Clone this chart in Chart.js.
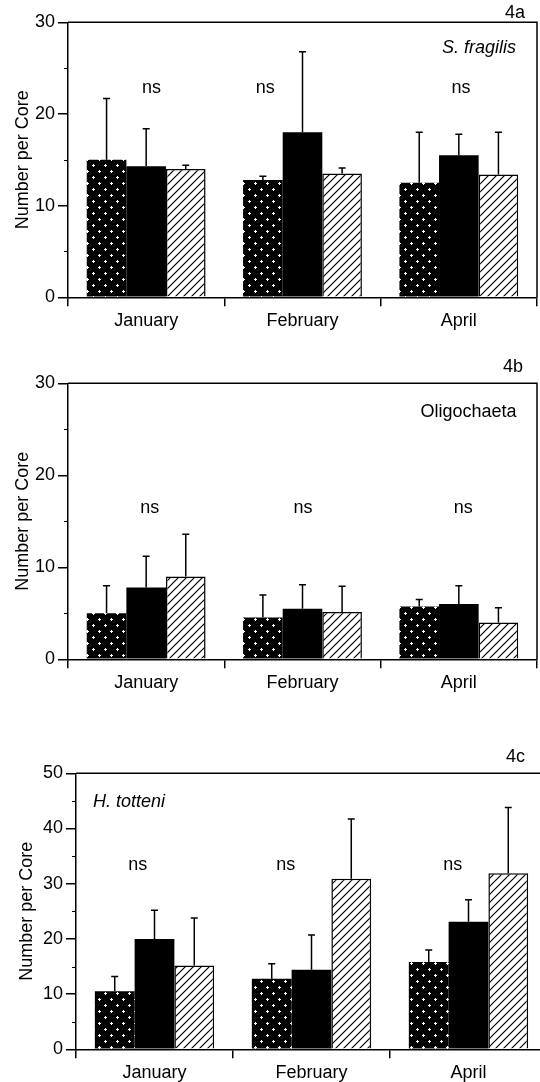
<!DOCTYPE html>
<html>
<head>
<meta charset="utf-8">
<script src="https://cdn.jsdelivr.net/npm/chart.js@4.4.1/dist/chart.umd.min.js"></script>
<style>
html, body { margin: 0; padding: 0; background: #fff; width: 540px; height: 1082px; overflow: hidden; }
canvas { position: absolute; left: 0; }
</style>
</head>
<body>
<canvas id="chartA" width="540" height="335" style="top:0px"></canvas>
<canvas id="chartB" width="540" height="360" style="top:340px"></canvas>
<canvas id="chartC" width="560" height="362" style="top:720px"></canvas>
<script>
const months = ['January', 'February', 'April'];
const seriesNames = ['Dotted', 'Solid', 'Hatched'];

// 4a - S. fragilis (mean, upper error)
const fragilisDotted = [15.0, 12.8, 12.5];
const fragilisDottedErr = [6.7, 0.4, 5.5];
const fragilisSolid = [14.3, 18.0, 15.5];
const fragilisSolidErr = [4.1, 8.8, 2.3];
const fragilisHatched = [14.0, 13.5, 13.4];
const fragilisHatchedErr = [0.4, 0.6, 4.6];

// 4b - Oligochaeta
const oligoDotted = [5.0, 4.55, 5.75];
const oligoDottedErr = [3.0, 2.45, 0.75];
const oligoSolid = [7.8, 5.5, 6.0];
const oligoSolidErr = [3.4, 2.6, 2.0];
const oligoHatched = [9.0, 5.15, 4.0];
const oligoHatchedErr = [4.6, 2.8, 1.6];

// 4c - H. totteni
const tottDotted = [10.5, 12.8, 15.8];
const tottDottedErr = [2.7, 2.7, 2.2];
const tottSolid = [20.0, 14.4, 23.1];
const tottSolidErr = [5.2, 6.3, 4.0];
const tottHatched = [15.2, 30.9, 31.9];
const tottHatchedErr = [8.6, 10.8, 11.9];

const yMaxA = 30, yMaxB = 30, yMaxC = 50;
const nsLabels = ['ns', 'ns', 'ns'];

const FONT = '"Liberation Sans", Arial, Helvetica, sans-serif';
Chart.defaults.font.family = FONT;
Chart.defaults.font.size = 18;
Chart.defaults.color = '#000';

function dotPattern() {
    const c = document.createElement('canvas');
    c.width = 12; c.height = 12;
    const g = c.getContext('2d');
    g.fillStyle = '#000';
    g.fillRect(0, 0, 12, 12);
    g.fillStyle = '#fff';
    [[3, 3], [9, 9]].forEach(p => {
        g.fillRect(p[0] - 1, p[1], 3, 1);
        g.fillRect(p[0], p[1] - 1, 1, 3);
    });
    return g.createPattern(c, 'repeat');
}

function hatchPattern() {
    const c = document.createElement('canvas');
    c.width = 8; c.height = 8;
    const g = c.getContext('2d');
    g.fillStyle = '#fff';
    g.fillRect(0, 0, 8, 8);
    g.strokeStyle = '#000';
    g.lineWidth = 1.2;
    g.beginPath();
    g.moveTo(-1, 9); g.lineTo(9, -1);
    g.moveTo(-1, 1); g.lineTo(1, -1);
    g.moveTo(7, 9); g.lineTo(9, 7);
    g.stroke();
    return g.createPattern(c, 'repeat');
}

// error bars, frame, minor ticks and text labels
const panelDecor = {
    id: 'panelDecor',
    afterDraw(chart, args, opts) {
        const ctx = chart.ctx;
        const area = chart.chartArea;
        const xs = chart.scales.x, ys = chart.scales.y;
        ctx.save();
        ctx.strokeStyle = '#000';
        ctx.lineWidth = 1.5;

        chart.data.datasets.forEach((ds, i) => {
            chart.getDatasetMeta(i).data.forEach((bar, j) => {
                const top = ys.getPixelForValue(ds.data[j] + ds.errors[j]);
                ctx.beginPath();
                ctx.moveTo(bar.x, bar.y);
                ctx.lineTo(bar.x, top);
                ctx.moveTo(bar.x - 3.5, top);
                ctx.lineTo(bar.x + 3.5, top);
                ctx.stroke();
            });
        });

        ctx.beginPath();
        ctx.moveTo(area.left, area.top);
        ctx.lineTo(area.right, area.top);
        ctx.lineTo(area.right, area.bottom);
        ctx.stroke();

        ctx.lineWidth = 1;
        for (let v = 5; v < ys.max; v += 10) {
            const py = Math.round(ys.getPixelForValue(v)) + 0.5;
            ctx.beginPath();
            ctx.moveTo(area.left - 4, py);
            ctx.lineTo(area.left, py);
            ctx.stroke();
        }

        ctx.fillStyle = '#000';
        ctx.textBaseline = 'middle';
        ctx.font = '18px ' + FONT;
        ctx.textAlign = 'center';
        const w = (xs.right - xs.left) / months.length;
        nsLabels.forEach((t, j) => {
            ctx.fillText(t, xs.getPixelForValue(j) + opts.nsDx[j] * w, ys.getPixelForValue(opts.nsY));
        });

        ctx.textAlign = 'right';
        ctx.fillText(opts.tag, area.right + opts.tagDx, area.top + opts.tagDy);

        ctx.font = (opts.italic ? 'italic ' : '') + '18px ' + FONT;
        ctx.textAlign = opts.taxonAlign;
        const tx = opts.taxonAlign === 'right' ? area.right + opts.taxonDx : area.left + opts.taxonDx;
        ctx.fillText(opts.taxon, tx, area.top + opts.taxonDy);
        ctx.restore();
    }
};

function makePanel(id, setup, dotted, dottedErr, solid, solidErr, hatched, hatchedErr, yMax) {
    const canvas = document.getElementById(id);
    const H = canvas.height, W = canvas.width;
    const data = {
        labels: months,
        datasets: [
            { label: seriesNames[0], data: dotted, errors: dottedErr, backgroundColor: dotPattern(), borderWidth: 0 },
            { label: seriesNames[1], data: solid, errors: solidErr, backgroundColor: '#000', borderWidth: 0 },
            { label: seriesNames[2], data: hatched, errors: hatchedErr, backgroundColor: hatchPattern(),
              borderColor: '#000', borderWidth: 1.5 }
        ]
    };
    const config = {
        type: 'bar',
        data: data,
        plugins: [panelDecor],
        options: {
            responsive: false,
            animation: false,
            datasets: { bar: { barPercentage: 1, categoryPercentage: 0.76 } },
            layout: { padding: { top: setup.top, right: W - setup.right, left: 0, bottom: 0 } },
            plugins: {
                legend: { display: false },
                tooltip: { enabled: false },
                panelDecor: setup
            },
            scales: {
                x: {
                    offset: true,
                    grid: { offset: true, drawOnChartArea: false, tickLength: 9, color: '#000', lineWidth: 1.5 },
                    border: { color: '#000', width: 1.5 },
                    ticks: { padding: 4, color: '#000' },
                    afterFit: s => { s.height = H - setup.bottom; }
                },
                y: {
                    min: 0,
                    max: yMax,
                    ticks: { stepSize: 10, padding: 3, color: '#000' },
                    grid: { drawOnChartArea: false, tickLength: 10, color: '#000', lineWidth: 1.5 },
                    border: { color: '#000', width: 1.5 },
                    title: { display: true, text: 'Number per Core', color: '#000',
                             padding: { top: setup.titlePad, bottom: 0 } },
                    afterFit: s => { s.width = setup.left; }
                }
            }
        }
    };
    return new Chart(canvas.getContext('2d'), config);
}

makePanel('chartA', {
    top: 22.3, bottom: 297.3, left: 68, right: 537, titlePad: 12,
    nsY: 22.8, nsDx: [0.034, -0.239, 0.014],
    tag: '4a', tagDx: -12, tagDy: -9.6,
    taxon: 'S. fragilis', italic: true, taxonAlign: 'right', taxonDx: -21, taxonDy: 26
}, fragilisDotted, fragilisDottedErr, fragilisSolid, fragilisSolidErr, fragilisHatched, fragilisHatchedErr, yMaxA);

makePanel('chartB', {
    top: 43.3, bottom: 319.3, left: 68, right: 537, titlePad: 12,
    nsY: 16.4, nsDx: [0.023, 0.003, 0.028],
    tag: '4b', tagDx: -14, tagDy: -16.6,
    taxon: 'Oligochaeta', italic: false, taxonAlign: 'right', taxonDx: -20.5, taxonDy: 28.4
}, oligoDotted, oligoDottedErr, oligoSolid, oligoSolidErr, oligoHatched, oligoHatchedErr, yMaxB);

makePanel('chartC', {
    top: 53.3, bottom: 329.3, left: 76, right: 547, titlePad: 16,
    nsY: 33.3, nsDx: [-0.107, -0.164, -0.1],
    tag: '4c', tagDx: -22, tagDy: -16.6,
    taxon: 'H. totteni', italic: true, taxonAlign: 'left', taxonDx: 17, taxonDy: 28.4
}, tottDotted, tottDottedErr, tottSolid, tottSolidErr, tottHatched, tottHatchedErr, yMaxC);
</script>
</body>
</html>
